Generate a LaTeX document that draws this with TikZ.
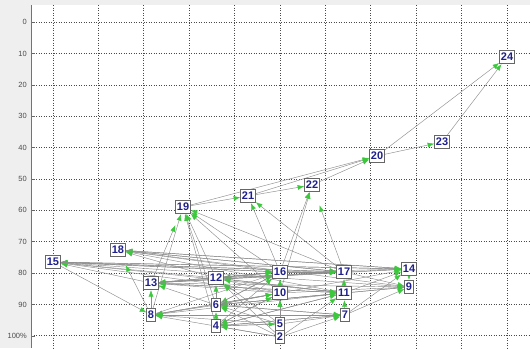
\documentclass[tikz,border=0pt]{standalone}
\usepackage{fontspec}
\setmainfont{Liberation Sans}
\usetikzlibrary{arrows.meta}
\definecolor{arrowgreen}{HTML}{3CC83C}
\definecolor{edgegray}{HTML}{8E8E8E}
\definecolor{numblue}{HTML}{1E1E8C}
\definecolor{panelgray}{HTML}{EFEFEF}
\definecolor{gridgray}{HTML}{4A4A4A}
\pgfdeclarelayer{bg}
\pgfsetlayers{bg,main}
\tikzset{
  netnode/.style={draw=black!60, line width=0.8pt, fill=white, inner xsep=1.3pt, inner ysep=0pt,
    minimum height=13.5pt, font=\fontsize{11}{11}\selectfont\bfseries, text=numblue},
  edge/.style={draw=edgegray, line width=0.45pt, -{Latex[length=6.5pt,width=5pt,color=arrowgreen]}},
  gridline/.style={draw=gridgray, line width=0.65pt, dash pattern=on 1.2pt off 1.3pt},
  ticklabel/.style={font=\fontsize{7.5}{7.5}\selectfont, text=black!70, anchor=east, inner sep=0pt}
}
\begin{document}
\begin{tikzpicture}[x=1pt,y=-1pt]
\useasboundingbox (0,0) rectangle (530,348);
\begin{pgfonlayer}{bg}
\fill[panelgray] (0,0) rectangle (530,348);
\fill[white] (31,5) rectangle (530,348);
\foreach \k in {0,...,10} {
  \draw[gridline] ({53+45.4*\k},5) -- ({53+45.4*\k},348);
  \draw[gridline] (31,{22.3+31.35*\k}) -- (530,{22.3+31.35*\k});
}
\foreach \k/\t in {0/0,1/10,2/20,3/30,4/40,5/50,6/60,7/70,8/80,9/90,10/100\%} {
  \draw[black!60, line width=0.6pt] (31,{22.3+31.35*\k}) -- (35,{22.3+31.35*\k});
  \node[ticklabel] (t\k) at (27,{22.3+31.35*\k}) {\t};
}
\draw[black!55, line width=1pt] (31,5) -- (31,348);
\end{pgfonlayer}

\node[netnode] (24) at (507,57) {24};
\node[netnode] (23) at (442,142) {23};
\node[netnode] (20) at (377,156) {20};
\node[netnode] (22) at (312,185) {22};
\node[netnode] (21) at (248,196) {21};
\node[netnode] (19) at (183,207) {19};
\node[netnode] (18) at (118,250) {18};
\node[netnode] (15) at (53,262) {15};
\node[netnode] (13) at (151,283) {13};
\node[netnode] (8) at (151,315) {8};
\node[netnode] (12) at (216,278) {12};
\node[netnode] (6) at (216,305) {6};
\node[netnode] (4) at (216,326) {4};
\node[netnode] (16) at (280,272) {16};
\node[netnode] (10) at (280,293) {10};
\node[netnode] (2) at (280,337) {2};
\node[netnode] (5) at (280,324) {5};
\node[netnode] (17) at (344,272) {17};
\node[netnode] (11) at (344,293) {11};
\node[netnode] (7) at (345,315) {7};
\node[netnode] (14) at (409,269) {14};
\node[netnode] (9) at (409,287) {9};

\begin{pgfonlayer}{bg}
\foreach \a/\b in {19/21,19/20,21/22,21/20,22/20,20/23,20/24,23/24,16/21,17/21,16/22,10/22,
  12/19,6/19,4/19,16/19,10/19,17/19,8/19,
  16/15,17/15,14/15,9/15,11/15,10/15,12/15,13/15,
  16/18,17/18,14/18,9/18,12/18,11/18,
  16/13,17/13,11/13,10/13,9/13,12/13,6/13,8/13,14/13,
  6/8,10/8,11/8,7/8,5/8,2/8,15/8,
  16/12,17/12,11/12,10/12,6/12,5/12,2/12,
  4/6,10/6,11/6,7/6,2/6,5/6,16/6,
  2/4,5/4,10/4,11/4,7/4,
  10/16,15/16,13/16,12/16,6/16,8/16,4/16,
  11/17,15/17,18/17,13/17,12/17,16/17,
  17/14,11/14,16/14,10/14,7/14,15/14,18/14,
  11/9,7/9,10/9,17/9,6/9,14/9,
  7/11,12/11,6/11,13/11,4/11,2/11,
  2/7,5/7,4/7,6/7,8/7,
  5/10,2/10,4/10,6/10,8/10,
  4/5} {
  \draw[edge] (\a) -- (\b);
}
\draw[edge, shorten >=12pt] (13) -- (19);
\draw[edge, shorten >=14pt] (17) -- (22);
\draw[edge, shorten >=9pt] (8) -- (18);
\end{pgfonlayer}
\end{tikzpicture}
\end{document}
